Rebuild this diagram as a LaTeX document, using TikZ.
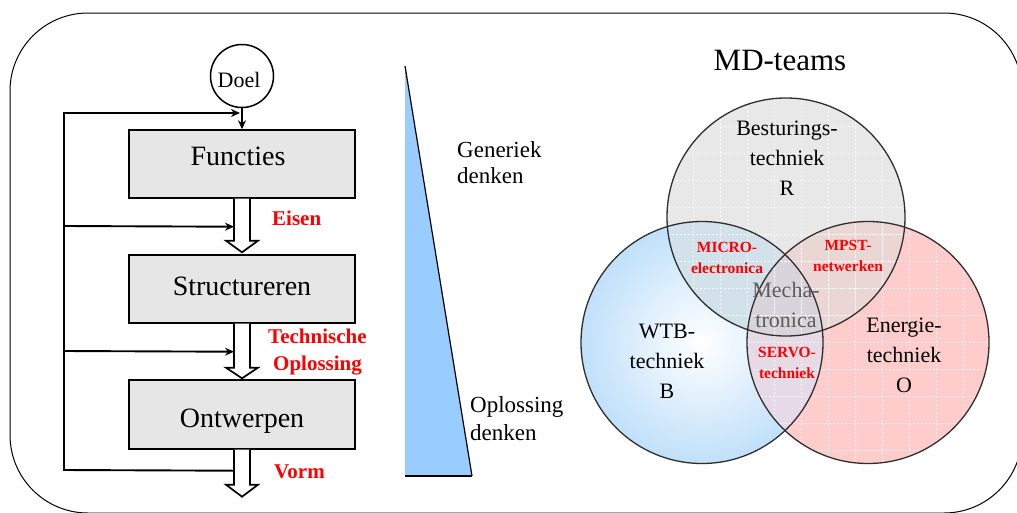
\documentclass[tikz,border=0pt]{standalone}
\usepackage{fontspec}
\setmainfont{Liberation Serif}
\usetikzlibrary{arrows.meta,calc}
\definecolor{boxgray}{HTML}{E6E6E6}
\definecolor{wedgeblue}{HTML}{99CCFF}
\definecolor{vennblue}{HTML}{C0E0FA}
\definecolor{venngray}{HTML}{E8E8E8}
\definecolor{vennpink}{HTML}{FFCCCC}
\definecolor{graybluemix}{HTML}{D3E1EB}
\definecolor{graypinkmix}{HTML}{EBD6D6}
\definecolor{bluepinkmix}{HTML}{E6DAE6}
\definecolor{allmix}{HTML}{D9D3DB}
\definecolor{labelred}{HTML}{FF0000}
\definecolor{rimgray}{HTML}{2E2E2E}
\definecolor{mechagray}{HTML}{5C5C5C}

\begin{document}
\begin{tikzpicture}[x=1pt,y=-1pt,
  frame/.style={draw=black, line width=1pt, rounded corners=78pt},
  stepbox/.style={draw, line width=1.4pt, fill=boxgray, minimum width=226pt, inner sep=0pt},
  boxtext/.style={font=\fontsize{28}{30}\selectfont, anchor=base, inner sep=0pt},
  redlabel/.style={font=\bfseries\fontsize{21}{27}\selectfont, text=labelred, anchor=base west, inner sep=0pt},
  sidetext/.style={font=\fontsize{23}{27}\selectfont, anchor=base west, inner sep=0pt, align=left},
  venntext/.style={font=\fontsize{22}{30}\selectfont, anchor=base, inner sep=0pt, align=center},
  redvenn/.style={font=\bfseries\fontsize{15.5}{21}\selectfont, text=labelred, anchor=base, inner sep=0pt, align=center},
  loopline/.style={line width=1.9pt},
  tip/.style={-{Stealth[length=9pt,width=8pt]}},
  hollow/.style={draw, line width=1.7pt, fill=white, line join=miter},
  rim/.style={draw=rimgray, line width=1.3pt},
  gridline/.style={white, line width=0.7pt, dash pattern=on 2pt off 2pt, opacity=0.75}
]
\useasboundingbox (0,0) rectangle (1017,512);
\clip (0,0) rectangle (1017,512);

% outer frame
\draw[frame] (10,13) rectangle (1022,513);

% ---------- design loop ----------
\node[circle, draw, line width=1.5pt, minimum size=63pt, inner sep=0pt] (doel) at (242,76) {};
\node[font=\fontsize{22}{24}\selectfont, anchor=base, inner sep=0pt] (doeltext) at (239,87) {Doel};

\node[stepbox, minimum height=68pt] (f) at (242,164) {};
\node[stepbox, minimum height=68pt] (s) at (242,289) {};
\node[stepbox, minimum height=69pt] (o) at (242,414.5) {};
\node[boxtext] (ft) at (238,165) {Functies};
\node[boxtext] (st) at (242,295) {Structureren};
\node[boxtext] (ot) at (242,427) {Ontwerpen};

% hollow transfer arrows
\draw[hollow] ($(f.south)+(-8,0)$) -- ($(f.south)+(-8,42)$) -- ($(f.south)+(-16,42)$)
  -- ($(s.north)+(0,-2)$) -- ($(f.south)+(16,42)$) -- ($(f.south)+(8,42)$) -- ($(f.south)+(8,0)$);
\draw[hollow] ($(s.south)+(-8,0)$) -- ($(s.south)+(-8,44)$) -- ($(s.south)+(-16,44)$)
  -- ($(o.north)+(0,-1)$) -- ($(s.south)+(16,44)$) -- ($(s.south)+(8,44)$) -- ($(s.south)+(8,0)$);
\coordinate (out) at ($(o.south)+(0,47)$);
\draw[hollow] ($(o.south)+(-8,0)$) -- ($(o.south)+(-8,35)$) -- ($(o.south)+(-16,35)$)
  -- (out) -- ($(o.south)+(16,35)$) -- ($(o.south)+(8,35)$) -- ($(o.south)+(8,0)$);

% feedback lines
\coordinate (back) at ($(o.south)+(-8,21)$);
\coordinate (goal) at (240,113);
\coordinate (fb1) at ($(f.south)+(-8,28)$);
\coordinate (fb2) at ($(s.south)+(-8,28)$);
\draw[loopline, tip] (back) -- (64,470) -- (64,113) -- (goal);
\draw[loopline, tip] (64,226) -- (fb1);
\draw[loopline, tip] (64,351) -- (fb2);
\draw[loopline, tip] (doel.south) -- (f.north);

\node[redlabel] (eisen) at (272,225) {Eisen};
\node[redlabel] (techn) at (268,343) {Technische};
\node[redlabel] (oploss) at (273,370) {Oplossing};
\node[redlabel] (vorm) at (274,478) {Vorm};

% ---------- generic to specific wedge ----------
\fill[wedgeblue] (405,66) -- (472,476) -- (405,476) -- cycle;
\draw[line width=1.2pt] (405,66) -- (472,476);
\draw[line width=1.6pt] (405,476) -- (472,476);
\node[sidetext] (gen1) at (457,157) {Generiek};
\node[sidetext] (gen2) at (457,183) {denken};
\node[sidetext] (opl1) at (470,412) {Oplossing};
\node[sidetext] (opl2) at (470,440) {denken};

% ---------- MD-teams Venn diagram ----------
\node[font=\fontsize{31}{34}\selectfont, anchor=base, inner sep=0pt] (mdteams) at (780,70) {MD-teams};

\coordinate (cr) at (786,217);
\coordinate (cb) at (702,342.5);
\coordinate (co) at (868,342.5);

\shade[inner color=white, outer color=vennblue] (cb) circle (121);
\fill[vennpink] (co) circle (121);
\begin{scope}
  \clip (cb) circle (121);
  \fill[bluepinkmix] (co) circle (121);
\end{scope}
\fill[venngray] (cr) circle (119);
\begin{scope}
  \clip (cb) circle (121);
  \fill[graybluemix] (cr) circle (119);
\end{scope}
\begin{scope}
  \clip (co) circle (121);
  \fill[graypinkmix] (cr) circle (119);
\end{scope}
\begin{scope}
  \clip (cb) circle (121);
  \clip (co) circle (121);
  \fill[allmix] (cr) circle (119);
\end{scope}

% faint grid texture
\begin{scope}
  \clip (cr) circle (119);
  \foreach \gx in {666,693,...,906} \draw[gridline] (\gx,95) -- (\gx,340);
  \foreach \gy in {126,153,...,340} \draw[gridline] (660,\gy) -- (910,\gy);
\end{scope}
\begin{scope}
  \clip (co) circle (121);
  \foreach \gx in {747,774,...,990} \draw[gridline] (\gx,220) -- (\gx,465);
  \foreach \gy in {234,261,...,465} \draw[gridline] (745,\gy) -- (990,\gy);
\end{scope}

\draw[rim] (cr) circle (119);
\draw[rim] (cb) circle (121);
\draw[rim] (co) circle (121);

% multi-line labels: the base anchor sits on the last line
\node[venntext] (rlab) at (787,195) {Besturings-\\techniek\\R};
\node[venntext] (blab) at (667,398) {WTB-\\techniek\\B};
\node[venntext] (olab) at (904,392) {Energie-\\techniek\\O};
\node[venntext, text=mechagray] (mlab) at (786,327) {Mecha-\\tronica};
\node[redvenn] (micro) at (727,273) {MICRO-\\electronica};
\node[redvenn] (mpst) at (848,271) {MPST-\\netwerken};
\node[redvenn] (servo) at (787,378) {SERVO-\\techniek};
\end{tikzpicture}
\end{document}
